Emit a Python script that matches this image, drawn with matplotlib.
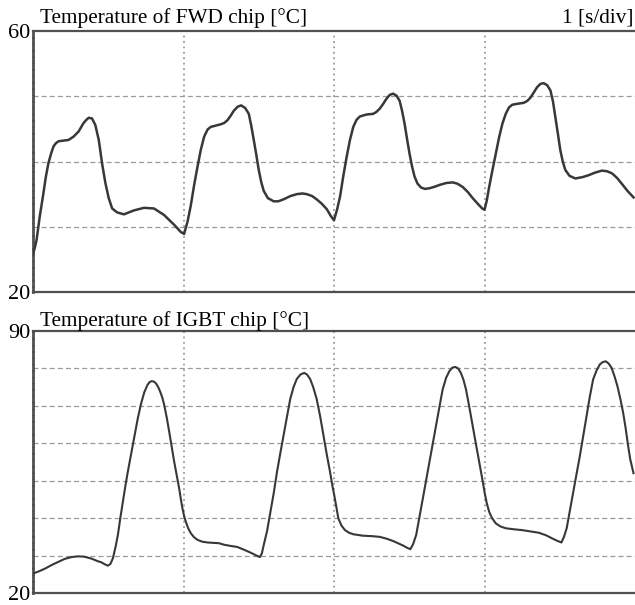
"""Oscilloscope-style traces of FWD and IGBT chip temperatures."""

import matplotlib
matplotlib.use("Agg")
import matplotlib.pyplot as plt

plt.rcParams["font.family"] = ["Liberation Serif", "DejaVu Serif"]

# FWD chip: (time [s], temperature [degC])
fwd_time = [0.0, 0.012, 0.024, 0.045, 0.069, 0.085, 0.102, 0.12, 0.136, 0.152,
            0.169, 0.203, 0.236, 0.269, 0.303, 0.336, 0.355, 0.370, 0.392, 0.414,
            0.437, 0.459, 0.481, 0.503, 0.526, 0.559, 0.604, 0.670, 0.737, 0.804,
            0.871, 0.938, 0.982, 1.004, 1.027, 1.048, 1.07, 1.093, 1.115, 1.137,
            1.16, 1.181, 1.215, 1.247, 1.27, 1.291, 1.313, 1.335, 1.36, 1.383,
            1.41, 1.434, 1.45, 1.467, 1.484, 1.500, 1.517, 1.533, 1.56, 1.599,
            1.63, 1.665, 1.71, 1.753, 1.79, 1.819, 1.855, 1.885, 1.92, 1.952,
            1.98, 2.0, 2.02, 2.040, 2.062, 2.084, 2.106, 2.128, 2.15, 2.172,
            2.216, 2.260, 2.282, 2.304, 2.326, 2.348, 2.37, 2.392, 2.415, 2.436,
            2.452, 2.469, 2.485, 2.502, 2.518, 2.535, 2.555, 2.579, 2.605, 2.634,
            2.665, 2.700, 2.745, 2.789, 2.82, 2.855, 2.89, 2.921, 2.96, 2.985,
            3.0, 3.015, 3.031, 3.053, 3.075, 3.097, 3.119, 3.141, 3.163, 3.185,
            3.207, 3.235, 3.262, 3.285, 3.306, 3.328, 3.350, 3.372, 3.394, 3.416,
            3.438, 3.455, 3.471, 3.488, 3.504, 3.52, 3.537, 3.565, 3.604, 3.65,
            3.692, 3.735, 3.780, 3.815, 3.846, 3.88, 3.912, 3.95, 3.99]
fwd_temp = [25.8, 26.8, 28.0, 31.6, 35.1, 37.6, 39.7, 41.2, 42.3, 42.8,
            43.1, 43.2, 43.3, 43.8, 44.6, 45.9, 46.4, 46.7, 46.6, 45.6,
            43.3, 39.7, 36.7, 34.4, 32.8, 32.2, 31.9, 32.5, 32.9, 32.8,
            31.8, 30.3, 29.2, 28.9, 30.8, 33.2, 36.3, 39.2, 41.8, 43.8,
            44.9, 45.3, 45.5, 45.7, 45.9, 46.3, 47.0, 47.8, 48.4, 48.6,
            48.2, 47.3, 45.5, 43.3, 41.0, 38.7, 36.8, 35.5, 34.4, 33.9,
            33.9, 34.2, 34.7, 35.0, 35.1, 35.0, 34.7, 34.2, 33.5, 32.7,
            31.6, 31.0, 32.6, 34.6, 37.8, 40.7, 43.3, 45.3, 46.4, 46.9,
            47.2, 47.3, 47.6, 48.1, 48.8, 49.6, 50.2, 50.4, 50.1, 49.3,
            47.8, 45.8, 43.5, 41.2, 39.3, 37.7, 36.6, 36.0, 35.8, 35.9,
            36.1, 36.4, 36.7, 36.8, 36.6, 36.1, 35.3, 34.4, 33.4, 32.8,
            32.6, 34.0, 36.1, 38.7, 41.2, 43.7, 45.8, 47.3, 48.3, 48.7,
            48.8, 48.9, 49.0, 49.3, 49.8, 50.6, 51.4, 51.9, 52.0, 51.7,
            50.9, 49.2, 46.8, 44.2, 41.7, 40.0, 38.7, 37.8, 37.4, 37.6,
            37.9, 38.3, 38.6, 38.5, 38.2, 37.5, 36.6, 35.5, 34.5]

# IGBT chip: (time [s], temperature [degC])
igbt_time = [0.0, 0.04, 0.079, 0.125, 0.167, 0.21, 0.256, 0.30, 0.34, 0.388,
             0.43, 0.454, 0.48, 0.498, 0.515, 0.531, 0.548, 0.564, 0.58, 0.597,
             0.613, 0.630, 0.647, 0.663, 0.680, 0.696, 0.718, 0.740, 0.762, 0.776,
             0.789, 0.803, 0.817, 0.831, 0.846, 0.860, 0.872, 0.889, 0.905, 0.921,
             0.938, 0.955, 0.971, 0.982, 0.993, 1.004, 1.015, 1.030, 1.048, 1.07,
             1.093, 1.125, 1.159, 1.20, 1.236, 1.269, 1.31, 1.357, 1.40, 1.445,
             1.48, 1.507, 1.52, 1.533, 1.555, 1.577, 1.60, 1.621, 1.643, 1.665,
             1.687, 1.709, 1.731, 1.753, 1.778, 1.802, 1.82, 1.841, 1.862, 1.885,
             1.908, 1.930, 1.952, 1.974, 1.99, 2.0, 2.015, 2.029, 2.05, 2.073,
             2.10, 2.128, 2.16, 2.194, 2.25, 2.304, 2.35, 2.392, 2.425, 2.458,
             2.485, 2.507, 2.525, 2.546, 2.568, 2.590, 2.612, 2.634, 2.656, 2.678,
             2.700, 2.722, 2.745, 2.767, 2.786, 2.806, 2.825, 2.843, 2.860, 2.877,
             2.90, 2.921, 2.943, 2.965, 2.983, 3.0, 3.015, 3.031, 3.05, 3.075,
             3.105, 3.141, 3.20, 3.251, 3.30, 3.361, 3.41, 3.449, 3.48, 3.511,
             3.528, 3.546, 3.568, 3.590, 3.612, 3.634, 3.656, 3.678, 3.70, 3.722,
             3.745, 3.767, 3.786, 3.806, 3.825, 3.844, 3.863, 3.883, 3.902, 3.921,
             3.938, 3.954, 3.968, 3.99]
igbt_temp = [25.2, 25.8, 26.5, 27.5, 28.3, 29.1, 29.6, 29.8, 29.7, 29.2,
             28.5, 28.2, 27.6, 27.3, 27.8, 29.3, 32.2, 35.5, 40.0, 44.4,
             48.4, 52.4, 56.0, 59.5, 63.2, 66.6, 70.6, 73.7, 75.7, 76.4,
             76.6, 76.5, 76.0, 75.1, 73.7, 72.1, 70.2, 66.8, 63.1, 59.2,
             55.1, 51.5, 48.0, 45.2, 42.6, 40.6, 39.1, 37.4, 36.0, 34.9,
             34.2, 33.7, 33.5, 33.4, 33.3, 32.9, 32.6, 32.3, 31.6, 30.8,
             30.1, 29.6, 30.5, 32.8, 36.5, 41.6, 46.8, 52.3, 57.3, 62.1,
             67.0, 71.8, 75.0, 77.2, 78.4, 78.8, 78.4, 77.2, 75.0, 71.8,
             67.2, 62.1, 57.0, 52.3, 48.5, 46.5, 43.0, 39.9, 38.0, 36.8,
             36.1, 35.7, 35.5, 35.3, 35.2, 35.0, 34.5, 33.9, 33.3, 32.7,
             32.1, 31.7, 33.0, 35.5, 40.3, 45.2, 50.1, 55.0, 59.9, 64.7,
             69.6, 74.4, 77.5, 79.3, 80.2, 80.4, 80.0, 78.8, 77.0, 74.4,
             69.5, 64.7, 59.8, 55.0, 51.0, 47.0, 44.0, 41.7, 40.0, 38.6,
             37.8, 37.3, 37.0, 36.8, 36.5, 36.1, 35.4, 34.6, 34.0, 33.5,
             35.0, 37.3, 42.2, 47.0, 51.9, 56.7, 62.0, 67.3, 72.5, 77.1,
             79.5, 81.1, 81.7, 81.9, 81.3, 80.2, 78.0, 75.3, 72.0, 68.2,
             64.0, 59.4, 55.8, 52.0]

fwd_limits = (20, 60)
igbt_limits = (20, 90)
fwd_title = "Temperature of FWD chip [°C]"
igbt_title = "Temperature of IGBT chip [°C]"
time_scale = "1 [s/div]"

GRID = "#9a9a9a"
FRAME = "#505050"
TRACE = "#383838"


def scope_axes(ax, limits, step):
    ax.set_xlim(0, 4)
    ax.set_ylim(*limits)
    for y in range(limits[0] + step, limits[1], step):
        ax.axhline(y, color=GRID, lw=0.9, ls=(0, (4, 2.5)), zorder=1)
    for x in (1, 2, 3):
        ax.axvline(x, color=GRID, lw=1.3, ls=(0, (1, 2)), zorder=1)
    ax.spines["right"].set_visible(False)
    for side in ("top", "bottom"):
        ax.spines[side].set_color(FRAME)
        ax.spines[side].set_linewidth(1.6)
        ax.spines[side].set_linestyle((0, (3, 1)))
    ax.spines["left"].set_color(FRAME)
    ax.spines["left"].set_linewidth(2.0)
    ax.spines["left"].set_linestyle((0, (1.5, 0.8)))
    ax.set_xticks([])
    ax.set_yticks(list(limits))
    ax.set_yticklabels([str(v) for v in limits], fontsize=16)
    ax.tick_params(axis="y", length=0, pad=2)


fig = plt.figure(figsize=(6.35, 6.05), dpi=100)
ax_fwd = fig.add_axes([33 / 635, 1 - 292 / 605, 1 - 33 / 635, 261 / 605])
ax_igbt = fig.add_axes([33 / 635, 1 - 593 / 605, 1 - 33 / 635, 262 / 605])

scope_axes(ax_fwd, fwd_limits, 10)
scope_axes(ax_igbt, igbt_limits, 10)

ax_fwd.plot(fwd_time, fwd_temp, color=TRACE, lw=1.8, zorder=3)
ax_igbt.plot(igbt_time, igbt_temp, color=TRACE, lw=1.5, zorder=3)

ax_fwd.text(0.012, 1.012, fwd_title, transform=ax_fwd.transAxes,
            fontsize=15.3, ha="left", va="bottom")
ax_fwd.text(0.997, 1.012, time_scale, transform=ax_fwd.transAxes,
            fontsize=15.3, ha="right", va="bottom")
ax_igbt.text(0.012, 1.0, igbt_title, transform=ax_igbt.transAxes,
             fontsize=15.3, ha="left", va="bottom")

fig.savefig("out.png", dpi=100)
